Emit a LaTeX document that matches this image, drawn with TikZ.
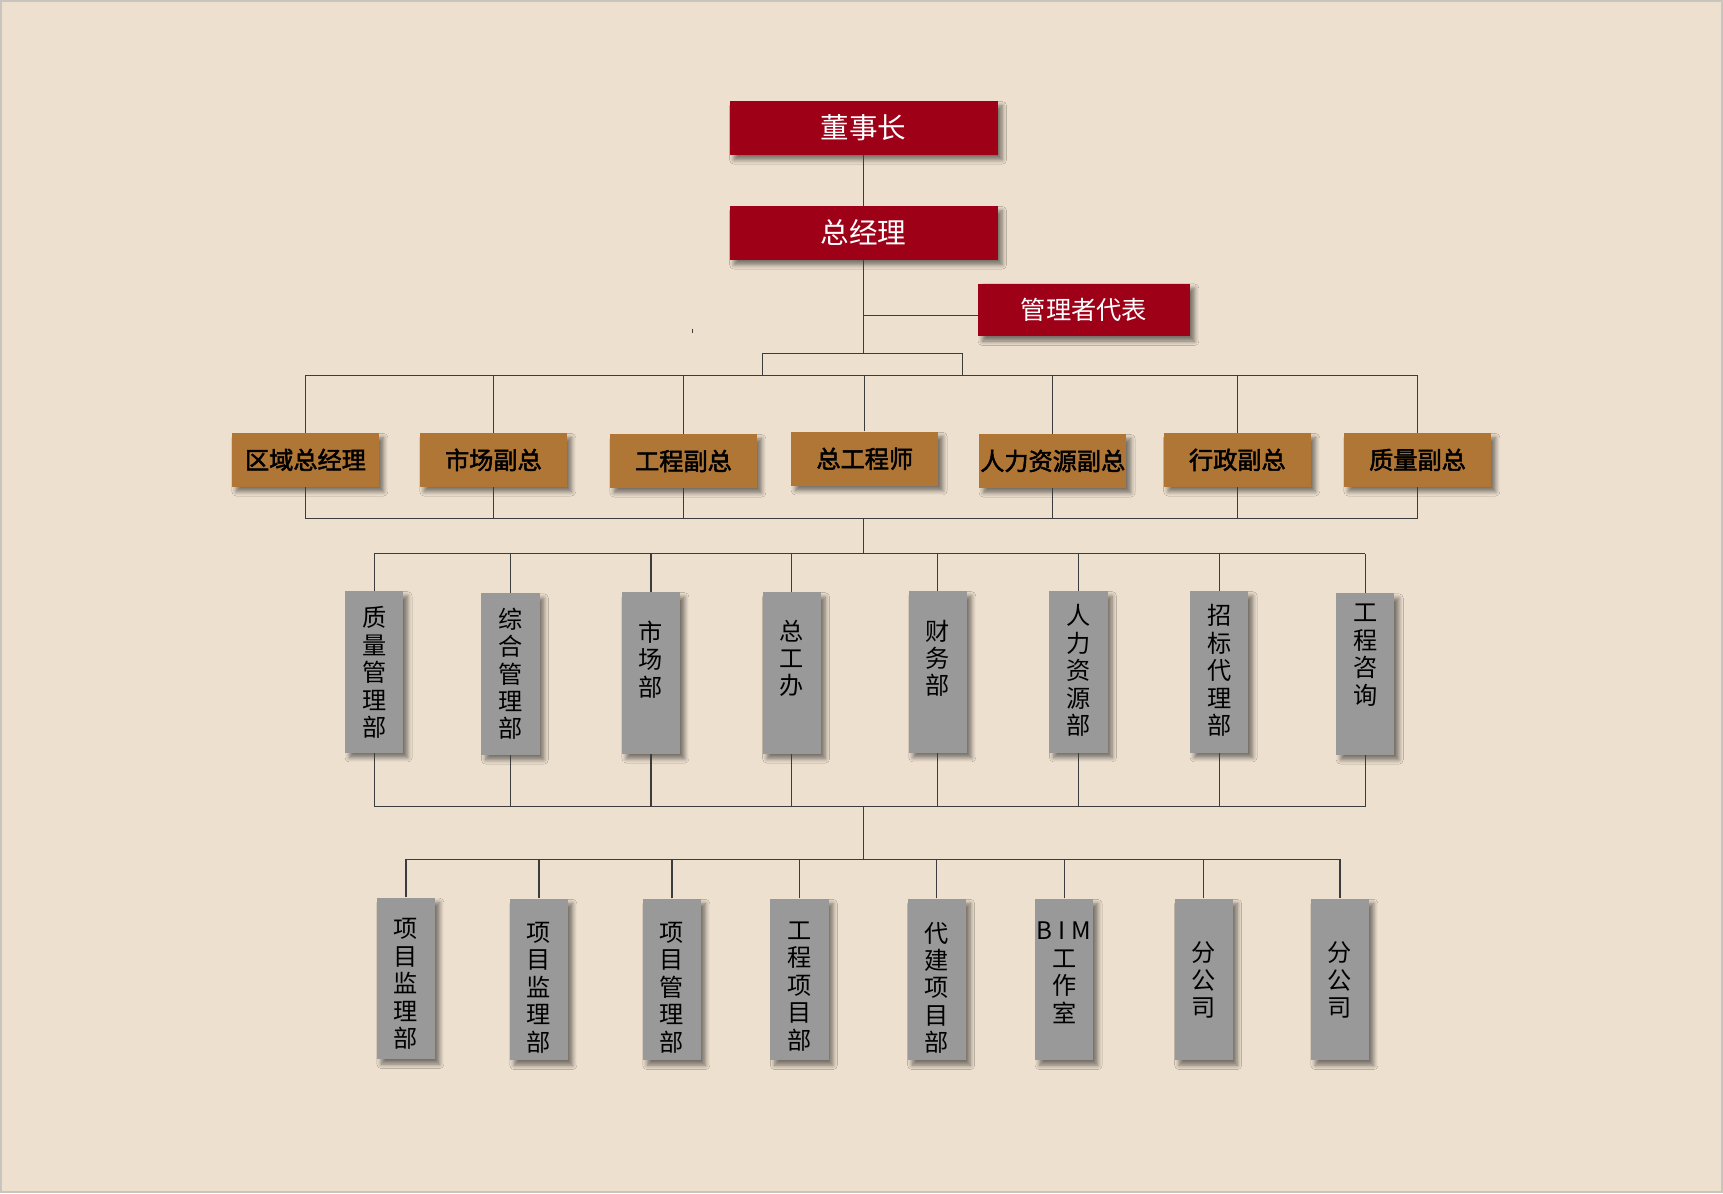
\documentclass[tikz,border=0pt]{standalone}
\usepackage{fontspec}
\setmainfont{Noto Sans CJK SC}
\newfontfamily\obfont{Noto Sans CJK SC}[FakeBold=2.2]
\usetikzlibrary{shadows.blur}
\definecolor{bg}{RGB}{237,224,207}
\definecolor{redc}{RGB}{158,0,24}
\definecolor{orc}{RGB}{176,118,53}
\definecolor{grc}{RGB}{153,153,153}
\definecolor{lnc}{RGB}{60,60,60}
\definecolor{edge}{RGB}{200,196,190}
\tikzset{
  shad/.style={blur shadow={shadow xshift=2pt, shadow yshift=-2.2pt, shadow blur steps=6, shadow blur radius=2pt, shadow opacity=50}},
  redbox/.style={shad, fill=redc, text=white, minimum width=122pt, minimum height=24.5pt, inner sep=0pt, font=\fontsize{13}{14}\selectfont},
  orbox/.style={shad, fill=orc, text=black, minimum width=67pt, minimum height=24.5pt, inner sep=0pt, font=\fontsize{11}{13}\selectfont\obfont},
  gbox/.style={shad, fill=grc, minimum width=26.5pt, minimum height=73.5pt, inner sep=0pt},
  gtext/.style={anchor=north, inner sep=0pt, align=center, text=black, font=\fontsize{11}{12.5}\selectfont},
  conn/.style={draw=lnc, line width=0.55pt}
}
\begin{document}
\begin{tikzpicture}[x=0.5pt,y=-0.5pt]
\useasboundingbox (0,0) rectangle (1568,1086);
\fill[bg] (0,0) rectangle (1568,1086);
\draw[edge, line width=0.8pt] (1,1) rectangle (1567,1085);
% top
\node[redbox] (dsz) at (786,116.5) {董事长};
\node[redbox] (zjl) at (786,212) {总经理};
\node[redbox, minimum width=96.5pt, minimum height=24pt, font=\fontsize{11.5}{13}\selectfont] (gld) at (986.5,282) {管理者代表};
\draw[conn] (630,299) -- (630,303);
% vice level
\node[orbox] (o1) at (278,418.5) {区域总经理};
\node[orbox] (o2) at (449,418.5) {市场副总};
\node[orbox] (o3) at (622,419.5) {工程副总};
\node[orbox] (o4) at (787,417.5) {总工程师};
\node[orbox] (o5) at (958,419.5) {人力资源副总};
\node[orbox] (o6) at (1126,418.5) {行政副总};
\node[orbox] (o7) at (1290,418.5) {质量副总};
% departments
\node[gbox] (g1) at (340.5,611.5) {};
\node[gbox] (g2) at (464.5,613.5) {};
\node[gbox] (g3) at (592.5,612.5) {};
\node[gbox] (g4) at (720.5,612.5) {};
\node[gbox] (g5) at (853.5,611.5) {};
\node[gbox] (g6) at (981.5,611.5) {};
\node[gbox] (g7) at (1109.5,611.5) {};
\node[gbox] (g8) at (1242.5,613.5) {};
\node[gtext] (tg1) at ([yshift=-7pt]g1.north) {质\\量\\管\\理\\部};
\node[gtext] (tg2) at ([yshift=-6.5pt]g2.north) {综\\合\\管\\理\\部};
\node[gtext] (tg3) at ([yshift=-13pt]g3.north) {市\\场\\部};
\node[gtext] (tg4) at ([yshift=-12.5pt]g4.north) {总\\工\\办};
\node[gtext] (tg5) at ([yshift=-13pt]g5.north) {财\\务\\部};
\node[gtext] (tg6) at ([yshift=-6pt]g6.north) {人\\力\\资\\源\\部};
\node[gtext] (tg7) at ([yshift=-6pt]g7.north) {招\\标\\代\\理\\部};
\node[gtext] (tg8) at ([yshift=-5pt]g8.north) {工\\程\\咨\\询};
% projects
\node[gbox] (h1) at (369.5,890.5) {};
\node[gbox] (h2) at (490.5,891.5) {};
\node[gbox] (h3) at (611.5,891.5) {};
\node[gbox] (h4) at (727.5,891.5) {};
\node[gbox] (h5) at (852.5,891.5) {};
\node[gbox] (h6) at (968.5,891.5) {};
\node[gbox] (h7) at (1095.5,891.5) {};
\node[gbox] (h8) at (1219.5,891.5) {};
\node[gtext] (th1) at ([yshift=-9.5pt]h1.north) {项\\目\\监\\理\\部};
\node[gtext] (th2) at ([yshift=-10.5pt]h2.north) {项\\目\\监\\理\\部};
\node[gtext] (th3) at ([yshift=-10.5pt]h3.north) {项\\目\\管\\理\\部};
\node[gtext] (th4) at ([yshift=-10.5pt]h4.north) {工\\程\\项\\目\\部};
\node[gtext] (th5) at ([yshift=-10.5pt]h5.north) {代\\建\\项\\目\\部};
\node[gtext] (th6) at ([yshift=-10.5pt]h6.north) {{\addfontfeature{LetterSpace=25}BIM}\\工\\作\\室};
\node[gtext] (th7) at ([yshift=-19.5pt]h7.north) {分\\公\\司};
\node[gtext] (th8) at ([yshift=-19.5pt]h8.north) {分\\公\\司};
% bus coordinates
\coordinate (jb) at (786,287);
\coordinate (bkL) at (694,322);
\coordinate (bkR) at (876,322);
\coordinate (bkM) at (786,322);
\coordinate (bus1) at (786,342);
\coordinate (bus2) at (786,472);
\coordinate (bus3) at (786,504);
\coordinate (bus4) at (786,734);
\coordinate (bus5) at (786,782);
% connectors
\draw[conn] (dsz.south) -- (dsz.south |- zjl.north);
\draw[conn] (zjl.south) -- (bkM);
\draw[conn] (jb) -- (jb -| gld.west);
\draw[conn] (bkL |- bus1) -- (bkL) -- (bkR) -- (bkR |- bus1);
\draw[conn] (o1.north |- bus1) -- (o7.north |- bus1);
\foreach \n in {o1,o2,o3,o4,o5,o6,o7} {\draw[conn] (\n.north) -- (\n.north |- bus1);}
\foreach \n in {o1,o2,o3,o5,o6,o7} {\draw[conn] (\n.south) -- (\n.south |- bus2);}
\draw[conn] (o1.south |- bus2) -- (o7.south |- bus2);
\draw[conn] (bus2) -- (bus3);
\draw[conn] (g1.north |- bus3) -- (g8.north |- bus3);
\foreach \n in {g1,g2,g3,g4,g5,g6,g7,g8} {\draw[conn] (\n.north) -- (\n.north |- bus3);}
\foreach \n in {g1,g2,g3,g4,g5,g6,g7,g8} {\draw[conn] (\n.south) -- (\n.south |- bus4);}
\draw[conn] (g1.south |- bus4) -- (g8.south |- bus4);
\draw[conn] (bus4) -- (bus5);
\draw[conn] (h1.north |- bus5) -- (h8.north |- bus5);
\foreach \n in {h1,h2,h3,h4,h5,h6,h7,h8} {\draw[conn] (\n.north) -- (\n.north |- bus5);}
\end{tikzpicture}
\end{document}
